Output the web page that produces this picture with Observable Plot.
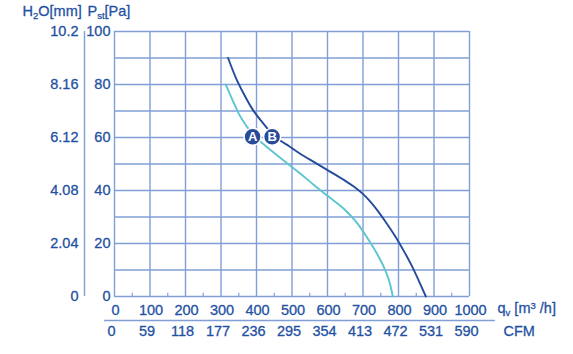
<!DOCTYPE html>
<html><head><meta charset="utf-8">
<script src="https://cdn.jsdelivr.net/npm/d3@7"></script>
<script src="https://cdn.jsdelivr.net/npm/@observablehq/plot@0.6"></script>
<style>body{margin:0;background:#fff}</style>
</head><body><div id="chart"></div>
<script>
// ---- data ----
const flowTicks = [0,100,200,300,400,500,600,700,800,900,1000];
const flowLabels = ["0","100","200","300","400","500","600","700","800","900","1000"];
const cfmLabels = ["0","59","118","177","236","295","354","413","472","531","590"];
const minorFlow = [50,150,250,350,450,550,650,750,850,950];
const paTicks = [0,20,40,60,80,100];
const paLabels = ["0","20","40","60","80","100"];
const mmLabels = ["0","2.04","4.08","6.12","8.16","10.2"];
const gridPa = [0,10,20,30,40,50,60,70,80,90,100];

const curveBx = [320,341,364,388,416,445,470,491,524,560,599,646,675,698,720,740,763,787,800,820,839,857,877];
const curveBy = [90,82.8,76.5,70.8,65.8,61.2,58.6,56.8,53.8,50.9,47.8,44.0,41.4,38.9,35.9,32.6,28.3,23.5,20.7,16.0,11.2,6.0,0];
const curveAx = [313,331,350,374,395,425,470,524,560,599,646,684,712,745,763,776,784];
const curveAy = [80,74.6,69,63.9,60.3,56.9,52,46.3,42.3,38.1,33.1,27.6,22.2,14.8,9.8,4.8,0];

const markerLabels = ["A","B"];
const markerX = [389,444];
const markerY = [60.3,60.3];

const curveB = curveBx.map((x,i)=>({x, y: curveBy[i]}));
const curveA = curveAx.map((x,i)=>({x, y: curveAy[i]}));
const markers = markerLabels.map((t,i)=>({t, x: markerX[i], y: markerY[i]}));

const txt = "#1f51a2";
const dark = "#274b9b";
const light = "#5cc5cf";
const grid = "#819fd6";
const fs = 14.5;
const tstyle = {fill: txt, stroke: txt, strokeWidth: 0.3, fontSize: fs};

const plot = Plot.plot({
  width: 573, height: 354,
  marginLeft: 114, marginRight: 104, marginTop: 31, marginBottom: 58,
  x: {domain: [0,1000], axis: null},
  y: {domain: [0,100], axis: null},
  style: {fontFamily: "'Liberation Sans', Arial, sans-serif", background: "#fff"},
  marks: [
    Plot.ruleY(gridPa, {stroke: grid, strokeWidth: 1.4}),
    Plot.ruleX(flowTicks, {stroke: grid, strokeWidth: 1.4}),
    Plot.ruleX(minorFlow, {y1: 0, y2: 1.2, stroke: grid, strokeWidth: 1.2}),
    Plot.ruleX([0], {y1: 0, y2: 100, dx: -30, stroke: grid, strokeWidth: 1.4}),
    Plot.ruleY([0], {x1: -28, x2: 1073, dy: 24, stroke: grid, strokeWidth: 1.4}),
    Plot.line(curveA, {x: "x", y: "y", stroke: light, strokeWidth: 1.9, curve: "monotone-x"}),
    Plot.line(curveB, {x: "x", y: "y", stroke: dark, strokeWidth: 1.9, curve: "monotone-x"}),
    Plot.dot(markers, {x: "x", y: "y", r: 8.5, fill: dark, stroke: "white", strokeWidth: 1.5}),
    Plot.text(markers, {x: "x", y: "y", text: "t", fill: "white", fontWeight: "bold", fontSize: 13}),
    Plot.text(paTicks, {x: 0, y: d=>d, text: (d,i)=>paLabels[i], dx: -4, textAnchor: "end", ...tstyle}),
    Plot.text(paTicks, {x: 0, y: d=>d, text: (d,i)=>mmLabels[i], dx: -36, textAnchor: "end", ...tstyle}),
    Plot.text(flowTicks, {x: d=>d, y: 0, text: (d,i)=>flowLabels[i], dy: 14, dx: 1, ...tstyle}),
    Plot.text(flowTicks, {x: d=>d, y: 0, text: (d,i)=>cfmLabels[i], dy: 35, dx: -3, ...tstyle}),
    Plot.text(["H2O[mm]"], {x: 0, y: 100, text: d=>d, dx: -92, dy: -20, textAnchor: "start", ...tstyle}),
    Plot.text(["Pst[Pa]"], {x: 0, y: 100, text: d=>d, dx: -27, dy: -20, textAnchor: "start", ...tstyle}),
    Plot.text(["qv [m3 /h]"], {x: 1000, y: 0, text: d=>d, dx: 28, dy: 12, textAnchor: "start", ...tstyle}),
    Plot.text(["CFM"], {x: 1000, y: 0, text: d=>d, dx: 34, dy: 35, textAnchor: "start", ...tstyle})
  ]
});

// sub/superscripts
d3.select(plot).selectAll("text").each(function(){
  const s = this.textContent;
  const el = d3.select(this);
  const parts = {
    "H2O[mm]": [["H",0],["2",1],["O[mm]",0]],
    "Pst[Pa]": [["P",0],["st",1],["[Pa]",0]],
    "qv [m3 /h]": [["q",0],["v",1],[" [m",0],["3",2],[" /h]",0]]
  }[s];
  if (!parts) return;
  el.text(null);
  let prev = 0;
  for (const [t,k] of parts) {
    const off = k===1 ? 3 : k===2 ? -4 : 0;
    const ts = el.append("tspan").text(t).attr("dy", off - prev);
    if (k) ts.attr("font-size", 9.5);
    prev = off;
  }
});

document.getElementById("chart").append(plot);
</script>
</body></html>
